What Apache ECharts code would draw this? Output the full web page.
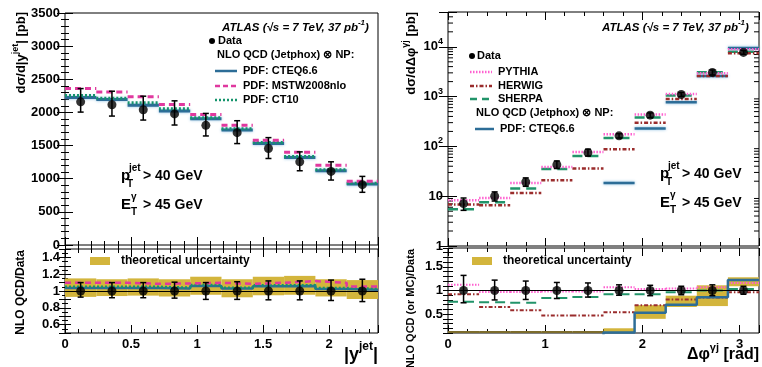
<!DOCTYPE html>
<html><head><meta charset="utf-8">
<script src="https://cdn.jsdelivr.net/npm/echarts@6.0.0/dist/echarts.min.js"></script>
<style>html,body{margin:0;padding:0;background:#fff;}#chart{width:762px;height:367px;}</style>
</head><body><div id="chart"></div>
<script>
// ---------- |y^jet| panel ----------
const yjetEdges   = [0,0.237,0.474,0.711,0.948,1.185,1.422,1.659,1.896,2.133,2.37];
const yjetData    = [2160,2115,2040,1978,1805,1695,1455,1255,1110,910];
const yjetDataHi  = [2360,2320,2245,2175,1985,1875,1620,1405,1255,1035];
const yjetDataLo  = [2005,1945,1885,1810,1645,1530,1305,1120,980,795];
const yjetCTEQ    = [2225,2195,2110,2020,1905,1735,1530,1320,1120,920];
const yjetMSTW    = [2360,2310,2235,2120,1970,1805,1580,1400,1205,960];
const yjetCT10    = [2255,2215,2145,2055,1920,1755,1545,1335,1135,930];
const yjetRatioData = [1,1,1,1,1,1,1,1,1,1];
const yjetRatioHi   = [1.10,1.10,1.10,1.105,1.10,1.11,1.12,1.12,1.13,1.14];
const yjetRatioLo   = [0.927,0.92,0.92,0.915,0.90,0.90,0.895,0.895,0.887,0.874];
const yjetRatioCTEQ = [1.037,1.037,1.037,1.029,1.061,1.029,1.057,1.061,1.024,1.016];
const yjetRatioMSTW = [1.098,1.098,1.086,1.09,1.098,1.086,1.098,1.118,1.098,1.053];
const yjetRatioCT10 = [1.05,1.05,1.05,1.04,1.07,1.04,1.067,1.07,1.035,1.028];
const yjetBandLo    = [0.93,0.94,0.945,0.935,0.955,0.925,0.95,0.955,0.935,0.905];
const yjetBandHi    = [1.15,1.14,1.15,1.14,1.17,1.14,1.17,1.18,1.14,1.13];

// ---------- Δφ panel ----------
const dphiEdges   = [0,0.32,0.64,0.96,1.28,1.6,1.92,2.24,2.56,2.88,3.2];
const dphiData    = [7.1,10.0,19.3,43,75,163,424,1105,3055,7710];
const dphiDataHi  = [9.2,12.2,23.3,51,88,180,470,1205,3420,8400];
const dphiDataLo  = [5.2,8.0,15.8,36,64,147,378,1005,2720,7090];
const dphiPYTHIA  = [8.3,9.2,18.5,38.7,77.6,176,438,1130,2950,8900];
const dphiHERWIG  = [6.8,6.6,11.6,20.9,36,88,297,900,2600,7400];
const dphiSHERPA  = [5.5,7.6,14.2,35.3,64.4,148,381,1050,3100,7950];
const dphiCTEQ    = [null,null,null,null,null,18.5,229,773,2600,9450];
const dphiRatioData   = [1,1,1,1,1,1,1,1,1,1];
const dphiRatioHi     = [1.32,1.22,1.20,1.17,1.16,1.12,1.11,1.09,1.12,1.09];
const dphiRatioLo     = [0.74,0.80,0.81,0.83,0.86,0.90,0.89,0.91,0.89,0.92];
const dphiRatioPYTHIA = [1.12,0.97,0.97,0.98,0.98,1.07,1.03,1.04,1.07,1.16];
const dphiRatioHERWIG = [0.92,0.65,0.58,0.47,0.47,0.54,0.69,0.81,0.85,0.965];
const dphiRatioSHERPA = [0.76,0.75,0.74,0.84,0.86,0.92,0.92,0.965,1.0,1.03];
const dphiRatioCTEQ   = [0,0,0,0,0,0.11,0.53,0.70,0.856,1.22];
const dphiBandLo      = [0,0,0,0,0,0.04,0.40,0.65,0.67,1.09];
const dphiBandHi      = [0,0,0,0,0,0.20,0.69,0.89,1.11,1.28];
const logMinorTicks   = [2,3,4,5,6,7,8,9,20,30,40,50,60,70,80,90,200,300,400,500,600,700,800,900,2000,3000,4000,5000,6000,7000,8000,9000,20000,30000,40000];

const FF = '"Liberation Sans", Arial, Helvetica, sans-serif';
const C_CTEQ='#2d6d97', C_MSTW='#e0399f', C_CT10='#15946c', C_PY='#ff5fd0', C_HW='#9a2c2c', C_SH='#22946a', C_BAND='#d3b53c';

function centers(e){ return e.slice(0,-1).map((v,i)=>(v+e[i+1])/2); }
function segs(e,v){ const o=[]; v.forEach((y,i)=>{ if(y==null) return; o.push([e[i],y],[e[i+1],y],[e[i+1],'-']); }); return o; }
function steps(e,v){ const o=v.map((y,i)=>[e[i],y]); o.push([e[e.length-1],v[v.length-1]]); return o; }
function errs(e,lo,hi){ return centers(e).map((x,i)=>[x,lo[i],hi[i]]); }
function bands(e,lo,hi){ return lo.map((l,i)=>[e[i],e[i+1],l,hi[i]]); }
function pts(e,v){ return centers(e).map((x,i)=>[x,v[i]]); }

function gridDef(left,top,width,height){ return {left,top,width,height,show:true,borderColor:'#000',borderWidth:1,backgroundColor:'transparent'}; }
const grids=[gridDef(65,13,313,232),gridDef(65,249,313,84),gridDef(448,12,311,234),gridDef(448,248,311,85)];

function ax(gi,pos,ext,lab,tickLen,minor,minorLen){
  return Object.assign({
    type:'value',gridIndex:gi,position:pos,
    axisLine:{show:false},splitLine:{show:false},
    axisTick:{show:true,inside:true,length:tickLen||8,lineStyle:{color:'#000',width:1}},
    minorTick:{show:!!minor,splitNumber:minor||5,length:minorLen||4,lineStyle:{color:'#000',width:1}},
    axisLabel:lab?Object.assign({show:true,color:'#000',fontFamily:FF,fontWeight:'bold',fontSize:13,margin:5},lab):{show:false}
  },ext);
}
const richAx={b:{fontFamily:FF,fontWeight:'bold',fontSize:13,lineHeight:20,color:'#000'},s:{fontFamily:FF,fontWeight:'bold',fontSize:9,lineHeight:10,verticalAlign:'top',color:'#000'}};
function fmtHalf(v){ const r=Math.round(v*10); return (Math.abs(v*10-r)<1e-6 && r%5===0)? String(r/10):''; }
function fmtInt(v){ return Math.abs(v-Math.round(v))<1e-6? String(Math.round(v)):''; }
function fmtEven(v){ const r=Math.round(v*10); return (r%2===0 && r>=6 && r<=14)? String(r/10):''; }
function fmtRat(v){ const r=Math.round(v*10); return (r===5||r===10||r===15)? String(r/10):''; }
function fmtLog(v){ const k=Math.round(Math.log10(v)); if(Math.abs(Math.pow(10,k)-v)>1e-6*v) return ''; if(k===0) return '{b|1}'; if(k===1) return '{b|10}'; return '{b|10}{s|'+k+'}'; }

const xAxes=[
  ax(0,'bottom',{min:0,max:2.37,interval:0.5},null,8,5,4),
  ax(0,'top',{min:0,max:2.37,interval:0.5},null,8,5,4),
  ax(1,'bottom',{min:0,max:2.37,interval:0.5},{formatter:fmtHalf,margin:5},8,5,4),
  ax(1,'top',{min:0,max:2.37,interval:0.5},null,8,5,4),
  ax(2,'bottom',{min:0,max:3.2,interval:1},null,8,5,4),
  ax(2,'top',{min:0,max:3.2,interval:1},null,8,5,4),
  ax(3,'bottom',{min:0,max:3.2,interval:1},{formatter:fmtInt,margin:5},8,5,4),
  ax(3,'top',{min:0,max:3.2,interval:1},null,8,5,4)
];
const yAxes=[
  ax(0,'left',{min:0,max:3500,interval:500},{formatter:v=>String(v),margin:5},8,5,4),
  ax(0,'right',{min:0,max:3500,interval:500},null,8,5,4),
  ax(1,'left',{min:0.5,max:1.5,interval:0.1},{formatter:fmtEven,margin:5},6,2,3),
  ax(1,'right',{min:0.5,max:1.5,interval:0.1},null,6,2,3),
  ax(2,'left',{type:'log',logBase:10,min:1,max:50000},{formatter:fmtLog,rich:richAx,margin:5},9,0,0),
  ax(2,'right',{type:'log',logBase:10,min:1,max:50000},null,9,0,0),
  ax(3,'left',{min:0.1,max:1.9,interval:0.1},{formatter:fmtRat,margin:5},5,0,0),
  ax(3,'right',{min:0.1,max:1.9,interval:0.1},null,5,0,0)
];

function errRender(params,api){
  const x=api.value(0),lo=api.value(1),hi=api.value(2);
  const a=api.coord([x,hi]),b=api.coord([x,lo]);
  const st={stroke:'#000',lineWidth:1.5};
  return {type:'group',children:[
    {type:'line',shape:{x1:a[0],y1:a[1],x2:b[0],y2:b[1]},style:st},
    {type:'line',shape:{x1:a[0]-3,y1:a[1],x2:a[0]+3,y2:a[1]},style:st},
    {type:'line',shape:{x1:b[0]-3,y1:b[1],x2:b[0]+3,y2:b[1]},style:st}
  ]};
}
function bandRender(params,api){
  const cs=params.coordSys;
  const a=api.coord([api.value(0),api.value(3)]),b=api.coord([api.value(1),api.value(2)]);
  const r=echarts.graphic.clipRectByRect({x:a[0],y:a[1],width:b[0]-a[0],height:b[1]-a[1]},{x:cs.x,y:cs.y,width:cs.width,height:cs.height});
  if(!r||r.height<1.5){ return {type:'rect',shape:{x:a[0],y:cs.y+cs.height-2,width:b[0]-a[0],height:2},style:{fill:'#7c6c2c'}}; }
  return {type:'rect',shape:r,style:{fill:C_BAND}};
}
function logTickRender(params,api){
  const cs=params.coordSys; const y=api.coord([1,api.value(1)])[1];
  const st={stroke:'#000',lineWidth:1};
  return {type:'group',children:[
    {type:'line',shape:{x1:cs.x,y1:y,x2:cs.x+5,y2:y},style:st},
    {type:'line',shape:{x1:cs.x+cs.width-5,y1:y,x2:cs.x+cs.width,y2:y},style:st}
  ]};
}
function line(xi,yi,data,color,width,type,step,extra){
  return Object.assign({type:'line',xAxisIndex:xi,yAxisIndex:yi,data,symbol:'none',step:step||false,connectNulls:false,clip:true,animation:false,z:3,
    lineStyle:{color,width,type}},extra||{});
}
function cteqStyle(w){ return {color:C_CTEQ,width:w,type:'solid',shadowColor:'rgba(120,180,220,0.9)',shadowBlur:3}; }

const series=[
  // panel 0
  line(0,0,segs(yjetEdges,yjetCTEQ),C_CTEQ,3,'solid',false,{lineStyle:cteqStyle(3)}),
  line(0,0,segs(yjetEdges,yjetCT10),C_CT10,3,[2,2]),
  line(0,0,segs(yjetEdges,yjetMSTW),C_MSTW,3,[6,4]),
  {type:'custom',xAxisIndex:0,yAxisIndex:0,renderItem:errRender,data:errs(yjetEdges,yjetDataLo,yjetDataHi),encode:{x:0,y:[1,2]},z:5,animation:false},
  {type:'scatter',xAxisIndex:0,yAxisIndex:0,data:pts(yjetEdges,yjetData),symbolSize:9,itemStyle:{color:'#000'},z:6,animation:false},
  // panel 1
  {type:'custom',xAxisIndex:2,yAxisIndex:2,renderItem:bandRender,data:bands(yjetEdges,yjetBandLo,yjetBandHi),encode:{x:[0,1],y:[2,3]},z:1,animation:false},
  line(2,2,steps(yjetEdges,yjetRatioCTEQ),C_CTEQ,2.5,'solid','end'),
  line(2,2,steps(yjetEdges,yjetRatioCT10),C_CT10,2.5,[2,2],'end'),
  line(2,2,steps(yjetEdges,yjetRatioMSTW),C_MSTW,2.5,[6,4],'end'),
  {type:'custom',xAxisIndex:2,yAxisIndex:2,renderItem:errRender,data:errs(yjetEdges,yjetRatioLo,yjetRatioHi),encode:{x:0,y:[1,2]},z:5,animation:false},
  {type:'scatter',xAxisIndex:2,yAxisIndex:2,data:pts(yjetEdges,yjetRatioData),symbolSize:9,itemStyle:{color:'#000'},z:6,animation:false,
    markLine:{silent:true,symbol:'none',label:{show:false},lineStyle:{color:'#000',width:1.2,type:'solid'},data:[{yAxis:1}],animation:false}},
  // panel 2
  {type:'custom',xAxisIndex:4,yAxisIndex:4,renderItem:logTickRender,data:logMinorTicks.map(v=>[1,v]),encode:{x:0,y:1},z:2,animation:false,silent:true},
  line(4,4,segs(dphiEdges,dphiCTEQ),C_CTEQ,2.5,'solid',false,{lineStyle:cteqStyle(2.5)}),
  line(4,4,segs(dphiEdges,dphiSHERPA),C_SH,2.5,[10,6]),
  line(4,4,segs(dphiEdges,dphiHERWIG),C_HW,2.5,[4,2,1.5,2]),
  line(4,4,segs(dphiEdges,dphiPYTHIA),C_PY,2.5,[1.5,1.5]),
  {type:'custom',xAxisIndex:4,yAxisIndex:4,renderItem:errRender,data:errs(dphiEdges,dphiDataLo,dphiDataHi),encode:{x:0,y:[1,2]},z:5,animation:false},
  {type:'scatter',xAxisIndex:4,yAxisIndex:4,data:pts(dphiEdges,dphiData),symbolSize:9,itemStyle:{color:'#000'},z:6,animation:false},
  // panel 3
  {type:'custom',xAxisIndex:6,yAxisIndex:6,renderItem:bandRender,data:bands(dphiEdges,dphiBandLo,dphiBandHi),encode:{x:[0,1],y:[2,3]},z:1,animation:false},
  line(6,6,segs(dphiEdges,dphiRatioSHERPA),C_SH,2,[10,6]),
  line(6,6,segs(dphiEdges,dphiRatioHERWIG),C_HW,2,[4,2,1.5,2]),
  line(6,6,segs(dphiEdges,dphiRatioPYTHIA),C_PY,2,[1.5,1.5]),
  line(6,6,steps(dphiEdges,dphiRatioCTEQ),C_CTEQ,2.5,'solid','end'),
  {type:'custom',xAxisIndex:6,yAxisIndex:6,renderItem:errRender,data:errs(dphiEdges,dphiRatioLo,dphiRatioHi),encode:{x:0,y:[1,2]},z:5,animation:false},
  {type:'scatter',xAxisIndex:6,yAxisIndex:6,data:pts(dphiEdges,dphiRatioData),symbolSize:9,itemStyle:{color:'#000'},z:6,animation:false,
    markLine:{silent:true,symbol:'none',label:{show:false},lineStyle:{color:'#000',width:1.2,type:'solid'},data:[{yAxis:1}],animation:false}}
];

// ---------- annotations ----------
function F(sz,st){ return (st||'')+' bold '+sz+'px '+FF; }
function T(x,y,text,sz,o){ return {type:'text',x,y,z:10,style:Object.assign({text,font:F(sz),fill:'#000',align:'left',verticalAlign:'middle'},o||{})}; }
function R(sz,st){ return {b:{font:F(sz,st),lineHeight:Math.round(sz*1.55)},s:{font:F(Math.round(sz*0.68),st),lineHeight:Math.round(sz*0.75),verticalAlign:'top'}}; }
function L(x1,x2,y,color,w,dash){ return {type:'line',z:10,shape:{x1,y1:y,x2,y2:y},style:{stroke:color,lineWidth:w,lineDash:dash||null}}; }
function rotT(x,y,text,sz){ return {type:'text',x,y,rotation:Math.PI/2,z:10,style:{text,rich:R(sz),font:F(sz),fill:'#000',align:'right',verticalAlign:'middle'}}; }
function pT(x,y,sup,rest){ return [
  T(x,y,'p',15), T(x+8,y-8,sup,10), T(x+6,y+8,'T',10), T(x+22,y,rest,14)]; }
function eT(x,y,sup,rest){ return [
  T(x,y,'E',15), T(x+10,y-8,sup,10), T(x+10,y+7,'T',10), T(x+22,y,rest,14)]; }

const atlas='{b|ATLAS (√s = 7 TeV, 37 pb}{s|-1}{b|)}';
const graphic=[
  rotT(21,12,'{b|dσ/d|y}{s|jet}{b|| [pb]}',13),
  rotT(21,250,'{b|NLO QCD/Data}',12),
  rotT(411,12,'{b|dσ/dΔφ}{s|γj}{b| [pb]}',13),
  rotT(411,249,'{b|NLO QCD (or MC)/Data}',11),
  T(222,28,atlas,11.5,{rich:R(11.5,'italic')}),
  T(602,28,atlas,11.5,{rich:R(11.5,'italic')}),
  // left legend
  {type:'circle',z:10,shape:{cx:212,cy:41,r:3},style:{fill:'#000'}},
  T(218,41,'Data',11),
  T(217,55,'NLO QCD (Jetphox) ⊗ NP:',11),
  L(215,237,71,C_CTEQ,2.5), T(243,71,'PDF: CTEQ6.6',11),
  L(215,237,86,C_MSTW,2.5,[5,3]), T(243,86,'PDF: MSTW2008nlo',11),
  L(215,237,100,C_CT10,2.5,[2,2]), T(243,100,'PDF: CT10',11),
  ...pT(121,176,'jet','> 40 GeV'),
  ...eT(121,205,'γ','> 45 GeV'),
  // right legend
  {type:'circle',z:10,shape:{cx:472,cy:56,r:3},style:{fill:'#000'}},
  T(477,56,'Data',11),
  L(470,492,72,C_PY,2.5,[1.5,1.5]), T(498,72,'PYTHIA',11),
  L(470,492,86,C_HW,2.5,[4,2,1.5,2]), T(498,86,'HERWIG',11),
  L(470,492,99,C_SH,2.5,[7,5]), T(498,99,'SHERPA',11),
  T(476,113,'NLO QCD (Jetphox) ⊗ NP:',11),
  L(475,494,129,C_CTEQ,2.5), T(500,129,'PDF: CTEQ6.6',11),
  ...pT(660,174,'jet','> 40 GeV'),
  ...eT(660,203,'γ','> 45 GeV'),
  // band legends
  {type:'rect',z:10,shape:{x:90,y:257,width:20,height:8},style:{fill:C_BAND}},
  T(121,261,'theoretical uncertainty',12),
  {type:'rect',z:10,shape:{x:472,y:257,width:20,height:8},style:{fill:C_BAND}},
  T(503,261,'theoretical uncertainty',12),
  // x titles
  T(378,355,'{b||y}{s|jet}{b||}',18,{align:'right',rich:R(18)}),
  T(759,355,'{b|Δφ}{s|γj}{b| [rad]}',16,{align:'right',rich:R(16)})
];

const chart=echarts.init(document.getElementById('chart'),null,{renderer:'canvas'});
chart.setOption({animation:false,backgroundColor:'#fff',grid:grids,xAxis:xAxes,yAxis:yAxes,series,graphic});
</script></body></html>
